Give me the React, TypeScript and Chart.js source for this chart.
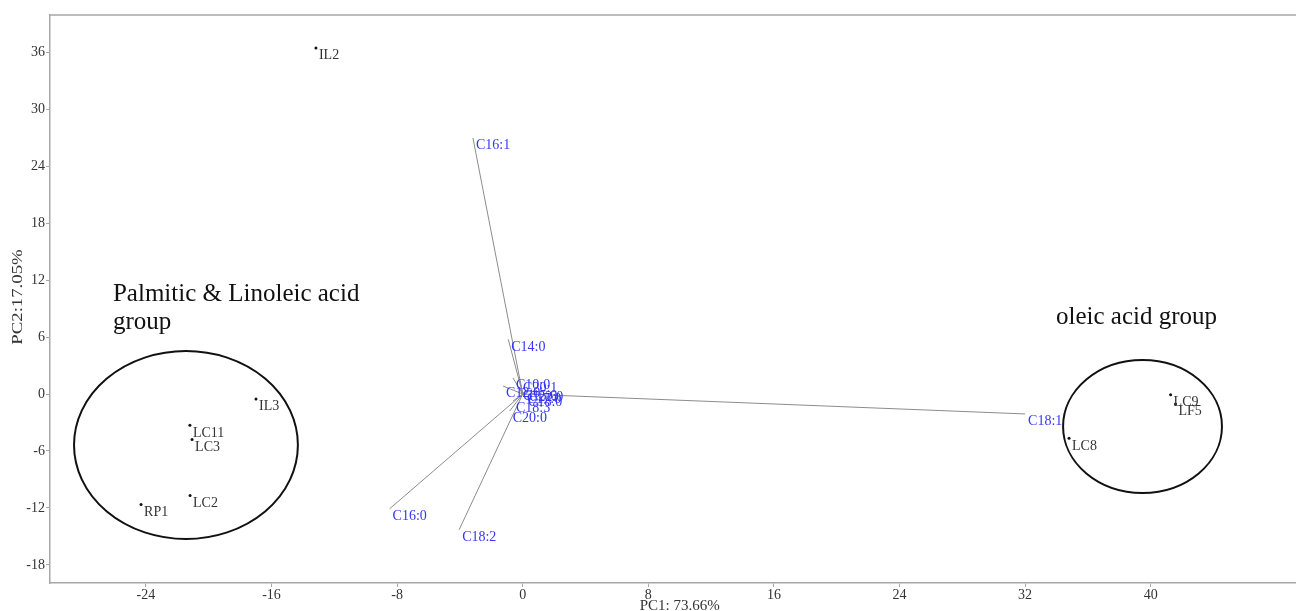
import { useEffect, useRef } from "react";
import { Chart, registerables } from "chart.js";

Chart.register(...registerables);

// Sample scores (PC1, PC2)
const scoreNames = ["IL2", "IL3", "LC11", "LC3", "LC2", "RP1", "LC9", "LF5", "LC8"];
const scoreX = [-13.17, -16.99, -21.2, -21.06, -21.19, -24.31, 41.27, 41.58, 34.8];
const scoreY = [36.46, -0.53, -3.3, -4.78, -10.68, -11.63, -0.07, -1.05, -4.67];

// Fatty acid loadings (vector end points)
const loadingNames = ["C16:1", "C14:0", "C10:0", "C12:0", "C20:1", "C15:0", "C17:0", "C22:0", "C18:0", "C18:3", "C20:0", "C16:0", "C18:2", "C18:1"];
const loadingX = [-3.17, -0.92, -0.62, -1.25, -0.17, -0.17, 0.08, 0.21, 0.15, -0.62, -0.83, -8.48, -4.05, 32.0];
const loadingY = [26.97, 5.76, 1.69, 0.84, 1.37, 0.53, 0.21, 0.42, -0.1, -0.74, -1.79, -12.1, -14.3, -2.1];

// Axis ticks
const xTicks = [-24, -16, -8, 0, 8, 16, 24, 32, 40];
const yTicks = [-18, -12, -6, 0, 6, 12, 18, 24, 30, 36];
const xTitle = "PC1: 73.66%";
const yTitle = "PC2:17.05%";

// Group ellipses and their captions
const groupLines = [["Palmitic & Linoleic acid", "group"], ["oleic acid group"]];
const groupCenterX = [-21.45, 39.48];
const groupCenterY = [-5.37, -3.42];
const groupRadiusX = [7.13, 5.06];
const groupRadiusY = [9.9, 7.0];
const groupLabelX = [-26.1, 33.97];
const groupLabelY = [10.54, 8.11];

const SERIF = "'Liberation Serif', 'Times New Roman', serif";

export default function App() {
  const canvasRef = useRef<HTMLCanvasElement | null>(null);

  useEffect(() => {
    if (!canvasRef.current) return;

    const lineSets = loadingNames.map((n, i) => ({
      type: "line" as const,
      label: n,
      data: [
        { x: 0, y: 0 },
        { x: loadingX[i], y: loadingY[i] },
      ],
      borderColor: "#8c8c8c",
      borderWidth: 1,
      pointRadius: 0,
      fill: false,
    }));

    const labelPlugin = {
      id: "labelsAndExtras",
      afterDatasetsDraw(chart: any) {
        const ctx = chart.ctx;
        const xs = chart.scales.x;
        const ys = chart.scales.y;
        const area = chart.chartArea;

        // ellipses
        ctx.save();
        ctx.strokeStyle = "#111";
        ctx.lineWidth = 2;
        groupCenterX.forEach((cx, i) => {
          const px = xs.getPixelForValue(cx);
          const py = ys.getPixelForValue(groupCenterY[i]);
          const rx = Math.abs(xs.getPixelForValue(cx + groupRadiusX[i]) - px);
          const ry = Math.abs(ys.getPixelForValue(groupCenterY[i] + groupRadiusY[i]) - py);
          ctx.beginPath();
          ctx.ellipse(px, py, rx, ry, 0, 0, Math.PI * 2);
          ctx.stroke();
        });
        ctx.restore();

        // group captions
        ctx.save();
        ctx.fillStyle = "#111";
        ctx.font = `25px ${SERIF}`;
        ctx.textAlign = "left";
        ctx.textBaseline = "middle";
        groupLines.forEach((lines, i) => {
          const px = xs.getPixelForValue(groupLabelX[i]);
          const py = ys.getPixelForValue(groupLabelY[i]);
          lines.forEach((t, j) => ctx.fillText(t, px, py + j * 28));
        });
        ctx.restore();

        // point labels
        chart.data.datasets.forEach((ds: any, di: number) => {
          if (!ds.pointLabels) return;
          const meta = chart.getDatasetMeta(di);
          ctx.save();
          ctx.font = `14px ${SERIF}`;
          ctx.fillStyle = ds.labelColor;
          ctx.textAlign = "left";
          ctx.textBaseline = "middle";
          meta.data.forEach((el: any, k: number) => {
            ctx.fillText(ds.pointLabels[k], el.x + 3, el.y + 7.5);
          });
          ctx.restore();
        });

        // frame top & right
        ctx.save();
        ctx.strokeStyle = "#a8a8a8";
        ctx.lineWidth = 1.5;
        ctx.beginPath();
        ctx.moveTo(area.left, area.top);
        ctx.lineTo(area.right, area.top);
        ctx.lineTo(area.right, area.bottom);
        ctx.stroke();
        ctx.restore();

        // y title (condensed-looking serif, stretched along its length)
        ctx.save();
        ctx.fillStyle = "#333";
        ctx.font = `15px ${SERIF}`;
        ctx.translate(18, (area.top + area.bottom) / 2 - 2);
        ctx.rotate(-Math.PI / 2);
        ctx.scale(1.25, 1);
        ctx.textAlign = "center";
        ctx.textBaseline = "middle";
        ctx.fillText(yTitle, 0, 0);
        ctx.restore();

        // x title, centred under the visible part of the plot
        ctx.save();
        ctx.fillStyle = "#333";
        ctx.font = `15px ${SERIF}`;
        ctx.textAlign = "center";
        ctx.textBaseline = "middle";
        ctx.fillText(xTitle, xs.getPixelForValue(10.0), area.bottom + 23);
        ctx.restore();
      },
    };

    const chart = new Chart(canvasRef.current, {
      type: "scatter",
      data: {
        datasets: [
          ...lineSets,
          {
            type: "scatter",
            label: "loadings",
            data: loadingNames.map((_, i) => ({ x: loadingX[i], y: loadingY[i] })),
            pointRadius: 0,
            pointLabels: loadingNames,
            labelColor: "#3535f5",
          } as any,
          {
            type: "scatter",
            label: "scores",
            data: scoreNames.map((_, i) => ({ x: scoreX[i], y: scoreY[i] })),
            pointRadius: 1.5,
            pointBorderWidth: 0,
            backgroundColor: "#111",
            borderColor: "#111",
            pointLabels: scoreNames,
            labelColor: "#333",
          } as any,
        ],
      },
      options: {
        animation: false,
        responsive: true,
        maintainAspectRatio: false,
        layout: { padding: { left: 0, right: 0, top: 15, bottom: 0 } },
        plugins: {
          legend: { display: false },
          tooltip: { enabled: false },
        },
        scales: {
          x: {
            type: "linear",
            min: -30.11,
            max: 50.53,
            afterBuildTicks: (s: any) => {
              s.ticks = xTicks.map((v) => ({ value: v }));
            },
            afterFit: (s: any) => {
              s.height = 28;
            },
            grid: {
              display: true,
              drawOnChartArea: false,
              drawTicks: true,
              tickLength: 4,
              color: "#a8a8a8",
            },
            border: { display: true, color: "#a8a8a8", width: 1.5 },
            ticks: {
              color: "#333",
              font: { family: SERIF, size: 14 },
              padding: 0,
              maxRotation: 0,
              autoSkip: false,
            },
            title: { display: false },
          },
          y: {
            type: "linear",
            min: -19.91,
            max: 39.93,
            afterBuildTicks: (s: any) => {
              s.ticks = yTicks.map((v) => ({ value: v }));
            },
            afterFit: (s: any) => {
              s.width = 50;
            },
            grid: {
              display: true,
              drawOnChartArea: false,
              drawTicks: true,
              tickLength: 4,
              color: "#a8a8a8",
            },
            border: { display: true, color: "#a8a8a8", width: 1.5 },
            ticks: {
              color: "#333",
              font: { family: SERIF, size: 14 },
              padding: 1,
              autoSkip: false,
            },
            title: { display: false },
          },
        },
      },
      plugins: [labelPlugin],
    } as any);

    return () => chart.destroy();
  }, []);

  return (
    <div style={{ position: "absolute", left: 0, top: 0, width: 1296, height: 611, overflow: "hidden", background: "#fff" }}>
      <div style={{ position: "absolute", left: 0, top: 0, width: 1320, height: 611 }}>
        <canvas ref={canvasRef} />
      </div>
    </div>
  );
}
